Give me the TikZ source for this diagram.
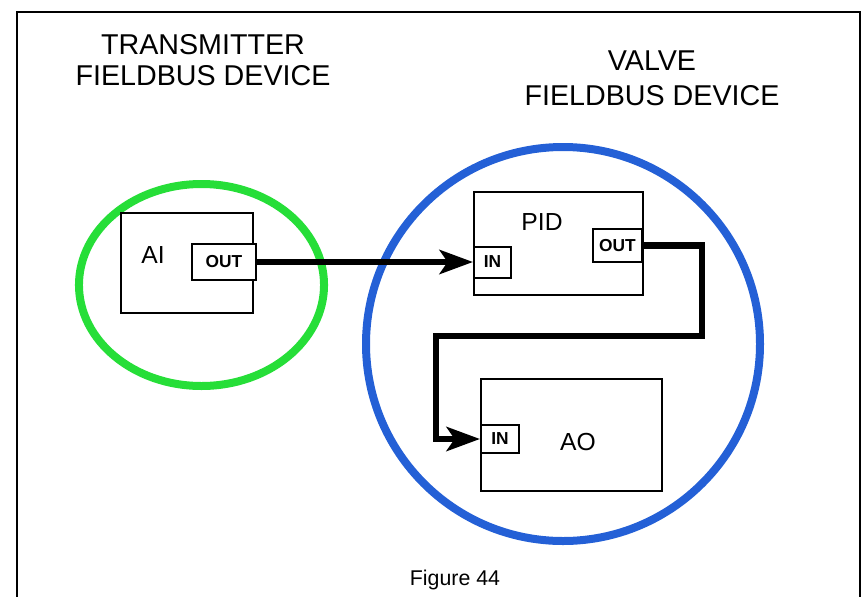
\documentclass[tikz,border=0pt]{standalone}
\usepackage{fontspec}
\setmainfont{Liberation Sans}
\usetikzlibrary{arrows.meta}
\definecolor{devgreen}{RGB}{38,222,56}
\definecolor{devblue}{RGB}{36,96,214}
\begin{document}
\begin{tikzpicture}[x=0.75pt,y=-0.75pt,
  blockbox/.style={draw,line width=1.5pt,fill=white,inner sep=0pt},
  portbox/.style={draw,line width=1.5pt,fill=white,inner sep=0pt,font=\bfseries\fontsize{13}{15}\selectfont},
  blocklabel/.style={inner sep=0pt,font=\fontsize{18.5}{20}\selectfont},
  titletext/.style={inner sep=0pt,align=center,font=\fontsize{21.5}{24}\selectfont},
  signal/.style={line width=5pt,-{Stealth[length=25pt,width=18pt,inset=6pt]}},
  ring/.style={line width=6pt}]
\useasboundingbox (0,0) rectangle (866,596);
\begin{scope}
\clip (0,0) rectangle (866,596);
\draw[line width=1.6pt] (17,620) -- (17,12) -- (860,12) -- (860,620);
\end{scope}
% device circles
\draw[ring,devgreen] (201.5,285) ellipse [x radius=91.9pt, y radius=75.75pt];
\draw[ring,devblue] (563,344) circle [radius=147.75pt];
% titles
\node[titletext] (t1a) at (203,45) {TRANSMITTER};
\node[titletext] (t1b) at (203,76) {FIELDBUS DEVICE};
\node[titletext] (t2a) at (652,61) {VALVE};
\node[titletext] (t2b) at (652,96) {FIELDBUS DEVICE};
% AI block
\node[blockbox,minimum width=99pt,minimum height=75pt] (AI) at (187,263) {};
\node[blocklabel] (AIlab) at (153,255) {AI};
\node[portbox,minimum width=48pt,minimum height=27pt] (AIout) at (224,262) {OUT};
% PID block
\node[blockbox,minimum width=126.75pt,minimum height=77.25pt] (PID) at (558.5,243.5) {};
\node[blocklabel] (PIDlab) at (542,222) {PID};
\node[portbox,minimum width=27.75pt,minimum height=23.25pt] (PIDin) at (492.5,262) {IN};
\node[portbox,minimum width=36.75pt,minimum height=24.75pt] (PIDout) at (617.5,245.5) {OUT};
% AO block
\node[blockbox,minimum width=135.75pt,minimum height=84pt] (AO) at (571.5,435) {};
\node[blocklabel] (AOlab) at (578,442) {AO};
\node[portbox,minimum width=28.5pt,minimum height=21pt] (AOin) at (500,439) {IN};
% connectors
\coordinate (turnR) at (702,336);
\coordinate (turnL) at (436,336);
\draw[signal] (AIout.east) -- (PIDin.west);
\draw[signal] (PIDout.east) -| (turnR) -- (turnL) |- (AOin.west);
% caption
\node[inner sep=0pt,font=\fontsize{16}{18}\selectfont] (cap) at (455,580) {Figure 44};
\end{tikzpicture}
\end{document}
